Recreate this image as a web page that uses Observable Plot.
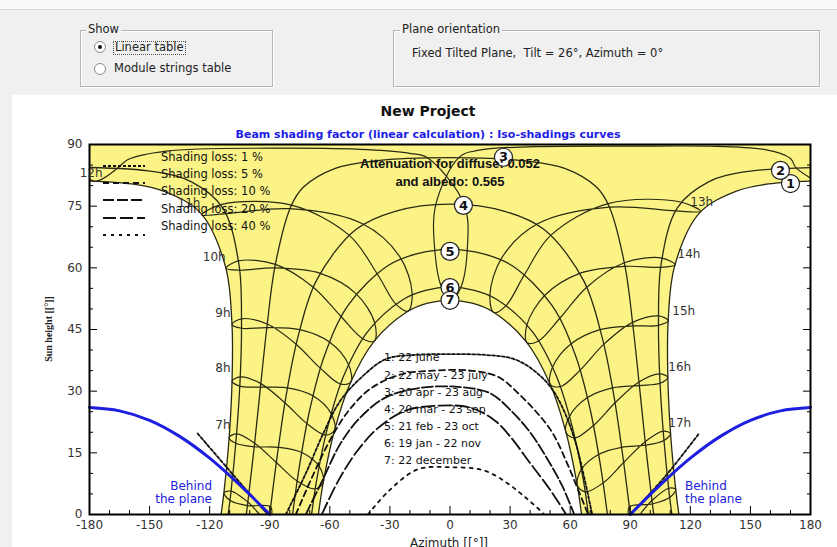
<!DOCTYPE html>
<html><head><meta charset="utf-8">
<script src="https://cdn.jsdelivr.net/npm/d3@7"></script>
<script src="https://cdn.jsdelivr.net/npm/@observablehq/plot@0.6"></script>
<style>
body{margin:0;width:837px;height:547px;overflow:hidden;background:#f0f0f0;position:relative;font-family:"DejaVu Sans",sans-serif;color:#111}
.abs{position:absolute;white-space:nowrap;line-height:1}
.ctr{transform:translate(-50%,-50%)}
.midy{transform:translateY(-50%)}
.grp{position:absolute;border:1px solid #b4b4b4;box-shadow:1px 1px 0 #fff inset, 1px 1px 0 #fff}
.grpt{position:absolute;background:#f0f0f0;padding:0 2px;font-size:11.5px;color:#222;line-height:1}
.ui{font-size:11.5px;color:#222}
.radio{position:absolute;width:10px;height:10px;border:1px solid #8a8a8a;border-radius:50%;background:#fff}
.radio.on::after{content:"";position:absolute;left:3px;top:3px;width:4px;height:4px;border-radius:50%;background:#111}
#panel{position:absolute;left:12px;top:95px;right:0;bottom:0;background:#fff}
#chart{position:absolute;left:0;top:95px}
.leg{font-family:"DejaVu Sans",sans-serif;font-size:11.5px;color:#111}
.hole{font-family:"DejaVu Sans",sans-serif;font-size:11px;color:#111}
.blue{font-family:"DejaVu Sans",sans-serif;font-size:12px;color:#2222dd;line-height:1.05}
</style></head><body>
<div class="abs" style="left:0;top:0;width:837px;height:9px;background:#fafafa;border-bottom:1px solid #d6d6d6"></div>

<div class="grp" style="left:80px;top:30px;width:191px;height:55px"></div>
<div class="grpt" style="left:86px;top:24px">Show</div>
<div class="radio on" style="left:94px;top:41px"></div>
<div class="abs ui" style="left:113px;top:41px;border:1px dotted #555;padding:0 1px">Linear table</div>
<div class="radio" style="left:94px;top:63px"></div>
<div class="abs ui" style="left:114px;top:63px">Module strings table</div>

<div class="grp" style="left:393px;top:30px;width:425px;height:55px"></div>
<div class="grpt" style="left:400px;top:24px">Plane orientation</div>
<div class="abs ui" style="left:412px;top:48px">Fixed Tilted Plane,&nbsp; Tilt = 26°, Azimuth = 0°</div>

<div id="panel"></div>
<div id="chart"></div>

<div class="abs ctr" style="left:428px;top:111px;font:bold 14px 'DejaVu Sans';color:#111">New Project</div>
<div class="abs ctr" style="left:428px;top:134px;font:bold 11px 'DejaVu Sans';color:#1d1de6">Beam shading factor (linear calculation) : Iso-shadings curves</div>

<div class="abs ctr" style="left:450px;top:163px;font:bold 13px 'Liberation Sans';color:#111">Attenuation for diffuse: 0.052</div>
<div class="abs ctr" style="left:450px;top:181px;font:bold 13px 'Liberation Sans';color:#111">and albedo: 0.565</div>

<svg class="abs" style="left:100px;top:160px" width="50" height="80">
  <line x1="3" x2="45" y1="6" y2="6" stroke="#111" stroke-width="2" stroke-dasharray="3 2"/>
  <line x1="3" x2="45" y1="23" y2="23" stroke="#111" stroke-width="2" stroke-dasharray="6 4"/>
  <line x1="3" x2="45" y1="40" y2="40" stroke="#111" stroke-width="2" stroke-dasharray="11 3"/>
  <line x1="3" x2="45" y1="58" y2="58" stroke="#111" stroke-width="2" stroke-dasharray="13 4"/>
  <line x1="3" x2="45" y1="75" y2="75" stroke="#111" stroke-width="2" stroke-dasharray="3 5"/>
</svg>
<div id="legend"></div>
<div id="holeLabels"></div>

<div class="abs blue" style="right:625px;top:480px;text-align:right">Behind<br>the plane</div>
<div class="abs blue" style="left:685px;top:480px">Behind<br>the plane</div>

<div class="abs" style="left:48px;top:329px;transform:translate(-50%,-50%) rotate(-90deg);font:bold 10px 'Liberation Serif';color:#222">Sun height [[°]]</div>
<div class="abs" style="left:410px;top:536px;font:12px 'DejaVu Sans';color:#222">Azimuth [[°]]</div>

<script>
// ---------------- data ----------------
const yTicks = [0, 15, 30, 45, 60, 75, 90];
const yMinor = [5, 10, 20, 25, 35, 40, 50, 55, 65, 70, 80, 85];
const xTicks = [-180, -150, -120, -90, -60, -30, 0, 30, 60, 90, 120, 150, 180];
const xMinor = [-170, -160, -140, -130, -110, -100, -80, -70, -50, -40, -20, -10, 10, 20, 40, 50, 70, 80, 100, 110, 130, 140, 160, 170];

// sun paths of the 7 dates: [solar hour, azimuth, sun height]
const date1AM = [[5.57,-114.3,0],[6,-112.8,5.7],[7,-110.2,19.2],[8,-108.8,32.9],[9,-108.9,46.7],[10,-112.1,60.3],[11,-124.5,73.3],[11.5,-142.7,78.6],[11.75,-159.0,80.4],[12,-180,81.1]];
const date1PM = [[12,180,81.1],[12.25,159.0,80.4],[12.5,142.7,78.6],[13,124.5,73.3],[14,112.1,60.3],[15,108.9,46.7],[16,108.8,32.9],[17,110.2,19.2],[18,112.8,5.7],[18.43,114.3,0]];
const date2AM = [[5.64,-110.8,0],[6,-109.5,4.9],[7,-106.7,18.8],[8,-104.8,32.7],[9,-104.1,46.8],[10,-105.4,60.9],[11,-113.5,74.6],[11.5,-129.1,80.9],[11.75,-148.0,83.4],[12,-180,84.4]];
const date2PM = [[12,180,84.4],[12.25,148.0,83.4],[12.5,129.1,80.9],[13,113.5,74.6],[14,105.4,60.9],[15,104.1,46.8],[16,104.8,32.7],[17,106.7,18.8],[18,109.5,4.9],[18.36,110.8,0]];
const date3 = [[5.8,-101.7,0],[6,-101.0,2.8],[7,-97.6,17.1],[8,-94.5,31.6],[9,-91.3,46.1],[10,-87.3,60.6],[11,-79.4,75.0],[11.33,-73.0,79.7],[11.67,-57.3,84.2],[11.83,-37.6,86.0],[12,0,86.8],[12.17,37.6,86.0],[12.33,57.3,84.2],[12.67,73.0,79.7],[13,79.4,75.0],[14,87.3,60.6],[15,91.3,46.1],[16,94.5,31.6],[17,97.6,17.1],[18,101.0,2.8],[18.2,101.7,0]];
const date4 = [[6,-90,0],[7,-86.2,14.5],[8,-81.8,29.0],[9,-75.9,43.2],[10,-66.6,57.0],[11,-47.0,69.3],[11.5,-27.8,73.7],[12,0,75.5],[12.5,27.8,73.7],[13,47.0,69.3],[14,66.6,57.0],[15,75.9,43.2],[16,81.8,29.0],[17,86.2,14.5],[18,90,0]];
const date5 = [[6.19,-78.6,0],[7,-75.3,11.4],[8,-70.1,25.3],[9,-62.7,38.6],[10,-51.0,50.8],[11,-31.1,60.5],[11.5,-16.7,63.4],[12,0,64.5],[12.5,16.7,63.4],[13,31.1,60.5],[14,51.0,50.8],[15,62.7,38.6],[16,70.1,25.3],[17,75.3,11.4],[17.81,78.6,0]];
const date6 = [[6.36,-69.1,0],[7,-66.5,8.6],[8,-60.9,21.6],[9,-53.0,33.8],[10,-41.1,44.5],[11,-23.4,52.3],[11.5,-12.2,54.5],[12,0,55.3],[12.5,12.2,54.5],[13,23.4,52.3],[14,41.1,44.5],[15,53.0,33.8],[16,60.9,21.6],[17,66.5,8.6],[17.64,69.1,0]];
const date7 = [[6.43,-65.7,0],[7,-63.4,7.5],[8,-57.8,20.2],[9,-49.8,31.9],[10,-38.1,42.0],[11,-21.4,49.3],[11.5,-11.1,51.4],[12,0,52.1],[12.5,11.1,51.4],[13,21.4,49.3],[14,38.1,42.0],[15,49.8,31.9],[16,57.8,20.2],[17,63.4,7.5],[17.57,65.7,0]];

// legal-time hour lines (analemma loops), points in the order
// Jun, May, Apr, Mar, Feb, Jan, Dec, Nov, Oct, Sep, Aug, Jul : [azimuth, sun height]
const hour6  = [[-112.9,5.25],[-109.34,5.69],[-100.94,3.04],[-90.48,-1.84],[-89.52,1.84],[-101.15,2.18],[-109.8,3.42]];
const hour7  = [[-110.27,18.75],[-106.57,19.59],[-97.55,17.34],[-86.72,12.66],[-76.44,8.19],[-67.4,6.22],[-63.27,7.84],[-65.33,11.69],[-74.0,15.07],[-85.68,16.34],[-97.74,16.48],[-106.95,17.32]];
const hour8  = [[-108.82,32.44],[-104.73,33.49],[-94.45,31.84],[-82.45,27.18],[-71.55,22.17],[-62.12,19.33],[-57.62,20.53],[-59.33,24.54],[-68.44,28.88],[-81.15,30.82],[-94.64,30.97],[-104.94,31.21]];
const hour9  = [[-108.85,46.24],[-104.12,47.6],[-91.24,46.34],[-76.86,41.43],[-64.9,35.67],[-54.78,31.74],[-49.54,32.19],[-50.69,36.47],[-60.18,41.96],[-74.94,44.97],[-91.46,45.47],[-104.07,45.3]];
const hour10 = [[-111.84,59.86],[-105.67,61.69],[-87.2,60.84],[-68.43,55.35],[-54.63,48.28],[-43.76,42.83],[-37.72,42.23],[-37.65,46.66],[-46.84,53.68],[-64.77,58.65],[-87.56,59.97],[-104.9,59.42]];
const hour11 = [[-123.82,72.89],[-114.4,75.36],[-79.22,75.24],[-50.28,67.89],[-36.36,58.57],[-26.87,51.1],[-20.92,49.47],[-18.91,53.85],[-25.08,62.71],[-43.72,70.71],[-79.86,74.38],[-111.82,73.18]];
const hour13 = [[125.18,73.71],[112.6,73.84],[79.58,74.76],[43.72,70.71],[25.84,62.43],[19.93,53.5],[21.88,49.13],[27.89,50.75],[37.12,58.29],[50.28,67.89],[78.94,75.62],[115.19,76.02]];
const hour14 = [[112.36,60.74],[105.13,60.11],[87.4,60.36],[64.77,58.65],[47.37,53.32],[38.44,46.17],[38.48,41.77],[44.56,42.34],[55.16,47.92],[68.43,55.35],[87.04,61.23],[105.9,62.38]];
const hour15 = [[108.96,47.16],[104.08,46.0],[91.36,45.86],[74.94,44.97],[60.5,41.53],[51.22,35.86],[50.06,31.61],[55.31,31.13],[65.22,35.24],[76.86,41.43],[91.14,46.73],[104.13,48.3]];
const hour16 = [[108.78,33.36],[104.87,31.91],[94.55,31.36],[81.15,30.82],[68.65,28.43],[59.69,23.87],[57.98,19.87],[62.48,18.66],[71.76,21.72],[82.45,27.18],[94.36,32.23],[104.66,34.19]];
const hour17 = [[110.13,19.65],[106.83,18.01],[97.65,16.86],[85.68,16.34],[74.16,14.61],[65.6,10.98],[63.53,7.16],[67.67,5.51],[76.6,7.73],[86.72,12.66],[97.46,17.72],[106.45,20.28]];
const hour18 = [[112.71,6.15],[109.66,4.11],[101.06,2.56],[89.52,1.84],[90.48,-1.84],[100.85,3.42],[109.2,6.38]];
// 12h crosses the zenith: Jun, May, (zenith), Apr, Mar, Feb, Jan, Dec, Nov, Oct, Sep, Aug, (zenith), Jul, Jun
const hour12 = [[182.8,81.05],[172.7,84.38],[170,86.6],[158,88.7],[90,89.6],[13.2,88.5],[4.4,86.8],[-7.1,75.4],[-7.6,64.3],[-4.2,55.25],[0.55,52.06],[5.4,55.2],[8.6,64.25],[7.1,75.4],[-11.3,86.77],[-19.5,87.8],[-41.1,88.75],[-90,89.1],[-141.6,88.4],[-161,86.3],[-166.3,84.1],[-177.2,81.05],[-187.3,84.38]];

const dateNames = ["1: 22 june", "2: 22 may - 23 july", "3: 20 apr - 23 aug", "4: 20 mar - 23 sep", "5: 21 feb - 23 oct", "6: 19 jan - 22 nov", "7: 22 december"];
const dateMarks = [[1,170,80.5],[2,165,83.7],[3,26.7,86.9],[4,6.7,75.2],[5,0,64.0],[6,0,55.2],[7,0,52.1]];

const hourLabelsAM = [["7h",-109.6,21.7],["8h",-109.6,35.5],["9h",-109.6,49.0],["10h",-112,62.5],["11h",-124.6,75.7]];
const hourLabelsPM = [["13h",120,76.0],["14h",113.6,63.3],["15h",111,49.4],["16h",109,35.8],["17h",109,22.1]];
const hourLabelNoon = [["12h",-179.2,83.0]];

// iso-shading curves [azimuth, sun height]
const loss1 = [[-82,0],[-72,10],[-63,20],[-55,27.5],[-45,33],[-32,37.8],[-18,38.8],[0,39],[18,38.8],[32,37.8],[42,35],[51,30.5],[58,24],[63,17],[67,9],[71,0]];
const loss1West = [[-126,19.7],[-108,9.5],[-91,0]];
const loss1East = [[124,19.5],[107,9],[90,0]];
const loss5 = [[-77,0],[-68,10],[-60,18],[-51,25],[-40,30.5],[-25,34],[-8,35],[10,35],[24,33.5],[34,29.5],[43,25],[51,20],[58,13],[64,6],[69,0]];
const loss10 = [[-72,0],[-63,9],[-55,17],[-45,23.5],[-32,28.5],[-15,30.8],[5,31],[20,29.5],[31,25],[40,20],[48,14],[56,7],[62,0]];
const loss20 = [[-64,0],[-56,8],[-47,15],[-36,21],[-22,25.3],[-5,26.5],[10,26],[22,23],[30,19],[40,12.5],[50,6],[58,0]];
const loss40 = [[-41,0],[-30,6],[-16,11],[0,11.5],[17,10.7],[29,7.5],[38,4],[45,1],[47,0]];
const lossLevels = ["Shading loss: 1 %", "Shading loss: 5 %", "Shading loss: 10 %", "Shading loss: 20 %", "Shading loss: 40 %"];

// plane horizon (behind the plane)
const behindWest = [[-180,26],[-165,25.2],[-150,22.9],[-135,19.0],[-120,13.7],[-105,7.2],[-90,0]];
const behindEast = [[90,0],[105,7.2],[120,13.7],[135,19.0],[150,22.9],[165,25.2],[180,26]];

// ---------------- build ----------------
const pathRows = [];
[[date1AM,"1a"],[date1PM,"1p"],[date2AM,"2a"],[date2PM,"2p"],[date3,"3"],[date4,"4"],[date5,"5"],[date6,"6"],[date7,"7"]]
  .forEach(([arr, key]) => arr.forEach(([h, az, alt]) => pathRows.push({key, h, az, alt})));

const loopRows = [];
[[hour6,6],[hour7,7],[hour8,8],[hour9,9],[hour10,10],[hour11,11],[hour13,13],[hour14,14],[hour15,15],[hour16,16],[hour17,17],[hour18,18]]
  .forEach(([arr, h]) => arr.forEach(([az, alt]) => loopRows.push({h, az, alt})));
const noonRows = hour12.map(([az, alt]) => ({az, alt}));

const pt = a => ({az: a[1], alt: a[2]});
const sunYear = [
  {az: -200, alt: 100}, {az: -200, alt: date1AM[date1AM.length - 1][2]},
  ...date1AM.slice().reverse().map(pt),
  {az: date1AM[0][1] - 1, alt: -8}, {az: date7[0][1] + 1, alt: -8},
  ...date7.map(pt),
  {az: date7[date7.length - 1][1] - 1, alt: -8}, {az: date1PM[date1PM.length - 1][1] + 1, alt: -8},
  ...date1PM.slice().reverse().map(pt),
  {az: 200, alt: date1PM[0][2]}, {az: 200, alt: 100}
];

const toPts = (arr, key) => arr.map(([az, alt]) => ({az, alt, key}));
const ink = "#2a2a12";
const isoStyle = {x: "az", y: "alt", stroke: "#111", strokeWidth: 1.8, curve: "catmull-rom", clip: true};
const fmt = d => String(d);

const chart = Plot.plot({
  width: 837, height: 452,
  marginLeft: 89, marginRight: 27, marginTop: 49, marginBottom: 33,
  x: {domain: [-180, 180]},
  y: {domain: [0, 90]},
  style: {background: "transparent", fontFamily: "DejaVu Sans, sans-serif", fontSize: "12px", color: "#333"},
  marks: [
    Plot.line(sunYear, {x: "az", y: "alt", fill: "#fbf386", stroke: "none", curve: "catmull-rom", clip: true}),
    Plot.line(pathRows, {x: "az", y: "alt", z: "key", stroke: ink, strokeWidth: 1.3, curve: "catmull-rom", clip: true}),
    Plot.line(loopRows, {x: "az", y: "alt", z: "h", stroke: ink, strokeWidth: 1.2, curve: "catmull-rom-closed", clip: true}),
    Plot.line(noonRows, {x: "az", y: "alt", stroke: ink, strokeWidth: 1.2, curve: "catmull-rom", clip: true}),
    Plot.line([...toPts(loss1, "a"), ...toPts(loss1West, "b"), ...toPts(loss1East, "c")], {...isoStyle, z: "key", strokeDasharray: "3 2"}),
    Plot.line(toPts(loss5, "a"), {...isoStyle, strokeDasharray: "6 4"}),
    Plot.line(toPts(loss10, "a"), {...isoStyle, strokeDasharray: "11 3"}),
    Plot.line(toPts(loss20, "a"), {...isoStyle, strokeDasharray: "13 4"}),
    Plot.line(toPts(loss40, "a"), {...isoStyle, strokeDasharray: "3 5"}),
    Plot.line(toPts(behindWest, "w"), {x: "az", y: "alt", stroke: "#1e1ee0", strokeWidth: 3, curve: "catmull-rom"}),
    Plot.line(toPts(behindEast, "e"), {x: "az", y: "alt", stroke: "#1e1ee0", strokeWidth: 3, curve: "catmull-rom"}),
    Plot.axisY(yTicks, {anchor: "left", tickSize: -8, tickPadding: 15, tickFormat: fmt, label: null, fontSize: 12, stroke: "#000"}),
    Plot.axisY(yMinor, {anchor: "left", tickSize: -4, fill: "none", label: null, stroke: "#000"}),
    Plot.axisY(yTicks, {anchor: "right", tickSize: -8, fill: "none", label: null, stroke: "#000"}),
    Plot.axisY(yMinor, {anchor: "right", tickSize: -4, fill: "none", label: null, stroke: "#000"}),
    Plot.axisX(xTicks, {anchor: "bottom", tickSize: -8, tickPadding: 14, tickFormat: fmt, label: null, fontSize: 12, stroke: "#000"}),
    Plot.axisX(xMinor, {anchor: "bottom", tickSize: -4, fill: "none", label: null, stroke: "#000"}),
    Plot.frame({stroke: "#000", strokeWidth: 2}),
    Plot.text(hourLabelsAM, {x: d => d[1], y: d => d[2], text: d => d[0], textAnchor: "end", fill: "#333", fontSize: 12}),
    Plot.text(hourLabelsPM, {x: d => d[1], y: d => d[2], text: d => d[0], textAnchor: "start", fill: "#333", fontSize: 12}),
    Plot.text(hourLabelNoon, {x: d => d[1], y: d => d[2], text: d => d[0], textAnchor: "middle", fill: "#333", fontSize: 12}),
    Plot.dot(dateMarks, {x: d => d[1], y: d => d[2], r: 9, fill: "#fff", stroke: "#222", strokeWidth: 1.2}),
    Plot.text(dateMarks, {x: d => d[1], y: d => d[2], text: d => String(d[0]), fill: "#111", fontSize: 13, fontWeight: "bold"})
  ]
});
document.getElementById("chart").appendChild(chart);

// legend & date list text
const legY = [158, 175, 192, 210, 227];
document.getElementById("legend").innerHTML = lossLevels.map((t, i) =>
  `<div class="abs leg midy" style="left:161px;top:${legY[i]}px">${t}</div>`).join("");
const holeY = [357, 375, 392, 409, 426, 443, 460];
document.getElementById("holeLabels").innerHTML = dateNames.map((t, i) =>
  `<div class="abs hole midy" style="left:384px;top:${holeY[i]}px">${t}</div>`).join("");
</script>
</body></html>
